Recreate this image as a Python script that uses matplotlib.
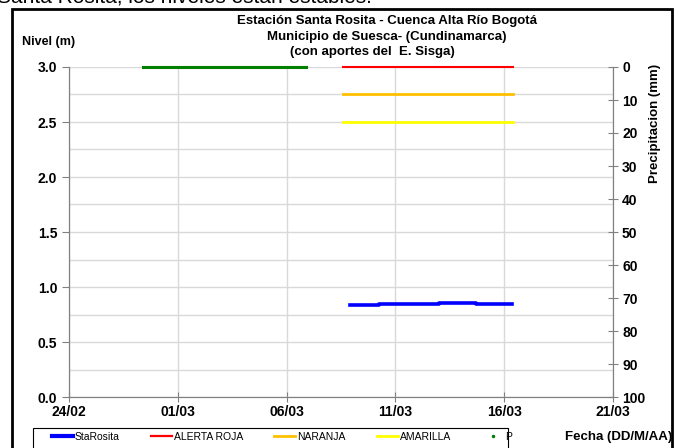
import matplotlib
matplotlib.use('Agg')
import matplotlib.pyplot as plt
import matplotlib.dates as mdates
from matplotlib.lines import Line2D
from matplotlib.patches import Rectangle
import pandas as pd

plt.rcParams['font.family'] = ['Liberation Sans', 'DejaVu Sans']

# Nivel StaRosita (m)
fechas_nivel = pd.to_datetime(['2021-03-08 22:00', '2021-03-10 06:00', '2021-03-13 00:30',
                               '2021-03-14 17:00', '2021-03-16 09:00'])
nivel = [0.834, 0.843, 0.855, 0.843, 0.843]

# Umbrales de alerta (m)
fechas_alerta = pd.to_datetime(['2021-03-08 14:30', '2021-03-16 10:00'])
alerta_roja = [3.0, 3.0]
naranja = [2.75, 2.75]
amarilla = [2.5, 2.5]

# Precipitacion (mm)
fechas_p = pd.to_datetime(['2021-02-27 09:30', '2021-03-06 21:00'])
precip = [0.0, 0.0]

fig = plt.figure(figsize=(6.84, 4.48), dpi=100)
ax = fig.add_axes([69/684, 1-397/448, (613-69)/684, (397-67)/448])

grid_c = '#d9d9d9'
ax.plot(fechas_alerta, alerta_roja, color='#ff0000', lw=1.5, zorder=3, clip_on=False)
ax.plot(fechas_alerta, naranja, color='#ffc000', lw=2.0, zorder=3)
ax.plot(fechas_alerta, amarilla, color='#ffff00', lw=2.0, zorder=3)
ax.plot(fechas_nivel, nivel, color='#0000ff', lw=2.6, drawstyle='steps-post', zorder=4)

ax.set_ylim(0, 3.0)
ax.set_xlim(pd.Timestamp('2021-02-24'), pd.Timestamp('2021-03-21'))
ax.set_yticks([0, 0.5, 1.0, 1.5, 2.0, 2.5, 3.0])
ax.set_yticks([0.25, 0.75, 1.25, 1.75, 2.25, 2.75], minor=True)
ax.yaxis.set_major_formatter(matplotlib.ticker.FormatStrFormatter('%.1f'))
ax.set_xticks(pd.date_range('2021-02-24', '2021-03-21', freq='5D'))
ax.xaxis.set_major_formatter(mdates.DateFormatter('%d/%m'))
ax.grid(True, which='both', axis='y', color=grid_c, lw=1)
ax.grid(True, which='major', axis='x', color=grid_c, lw=1)
ax.set_axisbelow(True)
ax.tick_params(axis='y', which='minor', length=0)
ax.tick_params(axis='both', which='major', color='#808080', labelsize=10, length=5)
ax.tick_params(axis='x', direction='inout', length=7, pad=2)
for lab in ax.get_xticklabels() + ax.get_yticklabels():
    lab.set_fontweight('bold')
ax.spines['top'].set_visible(False)
for s in ['left', 'right', 'bottom']:
    ax.spines[s].set_color('#808080')

ax2 = ax.twinx()
ax2.plot(fechas_p, precip, color='#008000', lw=2.2, zorder=3, clip_on=False)
ax2.set_ylim(100, 0)
ax2.set_yticks(range(0, 101, 10))
ax2.tick_params(axis='y', direction='inout', length=7, color='#808080', labelsize=10, pad=3)
for lab in ax2.get_yticklabels():
    lab.set_fontweight('bold')
ax2.spines['top'].set_visible(False)
for s in ['left', 'right', 'bottom']:
    ax2.spines[s].set_color('#808080')
ax2.set_ylabel('Precipitacion (mm)', fontsize=9.5, fontweight='bold')
ax2.yaxis.set_label_coords((649-69)/544, 0.83)

fig.text(387/684, 1-21/448, 'Estación Santa Rosita - Cuenca Alta Río Bogotá',
         ha='center', va='center', fontsize=9.5, fontweight='bold')
fig.text(387/684, 1-37/448, 'Municipio de Suesca- (Cundinamarca)',
         ha='center', va='center', fontsize=9.5, fontweight='bold')
fig.text(372/684, 1-52/448, '(con aportes del  E. Sisga)',
         ha='center', va='center', fontsize=9.5, fontweight='bold')
fig.text(22/684, 1-42/448, 'Nivel (m)', ha='left', va='center', fontsize=9, fontweight='bold')
fig.text(672/684, 1-437/448, 'Fecha (DD/M/AA)', ha='right', va='center',
         fontsize=9.5, fontweight='bold')

# texto del informe, cortado en el borde superior
fig.text(-0.004, 1-2.5/448, 'Santa Rosita, los niveles están estables.', ha='left',
         va='baseline', fontsize=15)

# marco exterior
fig.patches.append(Rectangle((12/684, -0.05), (672-12)/684, 1.05-9/448,
                             transform=fig.transFigure, fill=False, ec='black', lw=2))
# marco de la leyenda
fig.patches.append(Rectangle((33/684, -0.05), (508-33)/684, 0.05+(448-428)/448,
                             transform=fig.transFigure, fill=False, ec='black', lw=0.8))

handles = [Line2D([], [], color='#0000ff', lw=3),
           Line2D([], [], color='#ff0000', lw=1.6),
           Line2D([], [], color='#ffc000', lw=2),
           Line2D([], [], color='#ffff00', lw=2),
           Line2D([], [], color='#008000', lw=0, marker='.', markersize=3)]
labels = ['StaRosita', 'ALERTA ROJA', 'NARANJA', 'AMARILLA', 'P']
leg = fig.legend(handles, labels, loc='center left', bbox_to_anchor=(52/684, 1-437/448),
                 ncol=5, fontsize=7.5, frameon=False,
                 handlelength=2.0, handletextpad=0.2, columnspacing=3.0,
                 borderpad=0, borderaxespad=0)

fig.savefig('out.png', dpi=100)
